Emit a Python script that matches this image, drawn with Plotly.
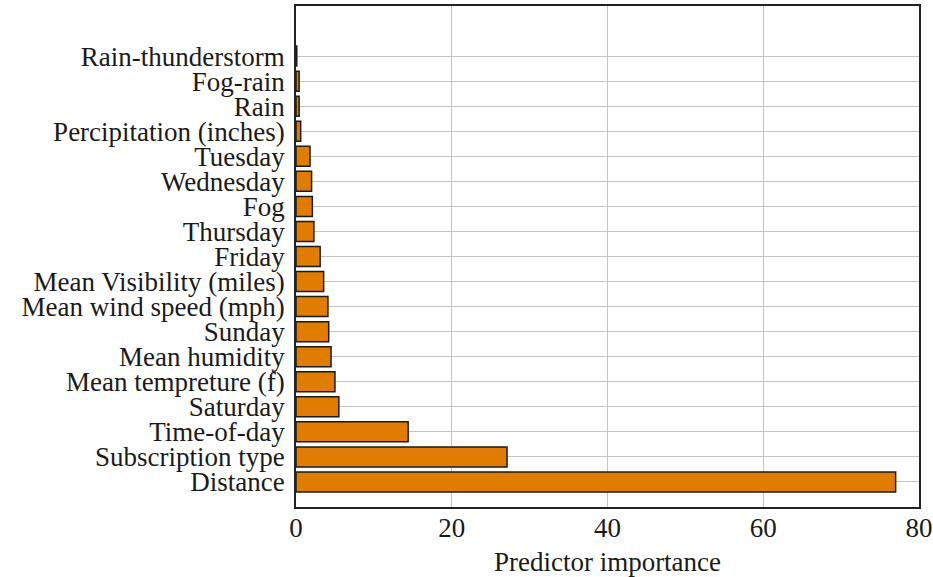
import plotly.graph_objects as go

categories = ["Distance", "Subscription type", "Time-of-day", "Saturday",
              "Mean tempreture (f)", "Mean humidity", "Sunday",
              "Mean wind speed (mph)", "Mean Visibility (miles)", "Friday",
              "Thursday", "Fog", "Wednesday", "Tuesday",
              "Percipitation (inches)", "Rain", "Fog-rain", "Rain-thunderstorm"]
importance = [77.0, 27.1, 14.4, 5.5, 5.0, 4.5, 4.2, 4.1, 3.55, 3.1,
              2.3, 2.1, 2.0, 1.8, 0.6, 0.4, 0.4, 0.1]
x_ticks = [0, 20, 40, 60, 80]

font_family = "Liberation Serif, Times New Roman, serif"
fs = 27

fig = go.Figure(go.Bar(
    x=importance, y=list(range(len(categories))), orientation="h",
    width=0.8,
    marker=dict(color="#E07C00", line=dict(color="#1a1a1a", width=1.5)),
))

fig.update_layout(
    width=933, height=577,
    margin=dict(l=296, r=14, t=6, b=70),
    plot_bgcolor="white", paper_bgcolor="white",
    showlegend=False,
    font=dict(family=font_family, size=fs, color="#1a1a1a"),
    xaxis=dict(range=[0, 80], tickvals=x_ticks, ticktext=[str(v) for v in x_ticks],
               automargin=False,
               showgrid=True, gridcolor="#c4c4c4", gridwidth=1.2,
               showline=True, linecolor="#222", linewidth=1.6, mirror=True,
               ticks="", zeroline=False, ticklabelstandoff=-4,
               title=dict(text="Predictor importance", standoff=10,
                          font=dict(family=font_family, size=fs)),
               tickfont=dict(family=font_family, size=fs)),
    yaxis=dict(range=[-1, len(categories) + 1], tickvals=list(range(len(categories))),
               ticktext=categories, automargin=False,
               showgrid=True, gridcolor="#c4c4c4", gridwidth=1.2,
               showline=True, linecolor="#222", linewidth=1.6, mirror=True,
               ticks="outside", ticklen=4, tickcolor="rgba(0,0,0,0)", zeroline=False,
               tickfont=dict(family=font_family, size=fs)),
)

fig.write_html("out.html", config={"displayModeBar": False},
               post_script="document.body.style.margin='0';document.body.style.overflow='hidden';")
